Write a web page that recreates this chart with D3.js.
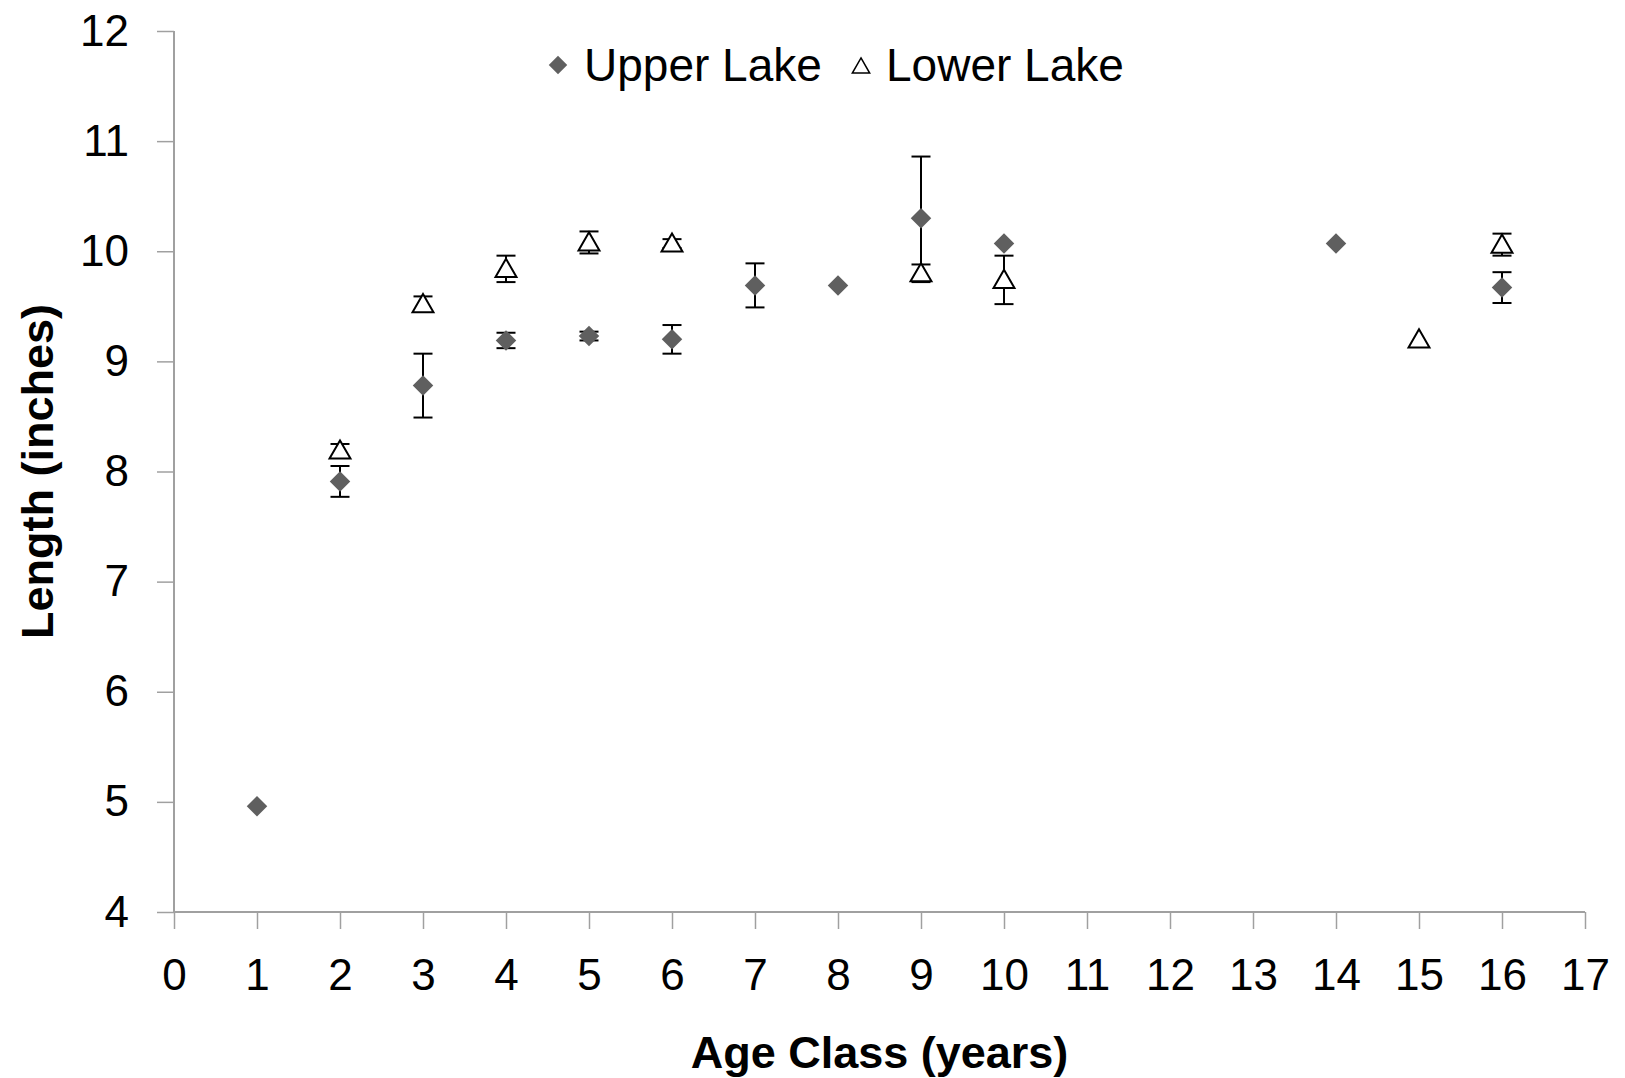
<!DOCTYPE html>
<html>
<head>
<meta charset="utf-8">
<script src="https://cdn.jsdelivr.net/npm/d3@7"></script>
<style>
  body { margin: 0; background: #fff; }
  svg { display: block; }
  text { font-family: "Liberation Sans", Arial, sans-serif; fill: #000; }
</style>
</head>
<body>
<div id="chart"></div>
<script>
// data
const upperAge = [1, 2, 3, 4, 5, 6, 7, 8, 9, 10, 14, 16];
const upperLen = [4.96, 7.91, 8.78, 9.19, 9.23, 9.20, 9.69, 9.69, 10.30, 10.07, 10.07, 9.67];
const upperErr = [0, 0.14, 0.29, 0.07, 0.04, 0.13, 0.20, 0, 0.56, 0, 0, 0.14];

const lowerAge = [2, 3, 4, 5, 6, 9, 10, 15, 16];
const lowerLen = [8.19, 9.52, 9.84, 10.08, 10.07, 9.80, 9.74, 9.20, 10.06];
const lowerErr = [0.06, 0.07, 0.12, 0.10, 0.04, 0.08, 0.22, 0, 0.10];

const xTicks = d3.range(0, 18);
const yTicks = d3.range(4, 13);
const seriesNames = ['Upper Lake', 'Lower Lake'];

const width = 1625, height = 1078;
const margin = {left: 174, right: 40, top: 31, bottom: 166};

const svg = d3.select('#chart').append('svg')
    .attr('width', width)
    .attr('height', height);

const x = d3.scaleLinear().domain([0, 17]).range([margin.left, width - margin.right]);
const y = d3.scaleLinear().domain([4, 12]).range([height - margin.bottom, margin.top]);

const axisColor = '#a0a0a0';
const markColor = '#5f5f5f';
const tickFont = '44px';
const titleFont = '45px';

// y axis
const yAxis = svg.append('g')
    .attr('transform', 'translate(' + margin.left + ',0)')
    .call(d3.axisLeft(y).tickValues(yTicks).tickSize(17).tickPadding(28).tickFormat(d3.format('d')));
// x axis
const xAxis = svg.append('g')
    .attr('transform', 'translate(0,' + (height - margin.bottom) + ')')
    .call(d3.axisBottom(x).tickValues(xTicks).tickSize(17).tickPadding(30).tickFormat(d3.format('d')));

[yAxis, xAxis].forEach(g => {
    g.select('.domain').attr('stroke', axisColor).attr('stroke-width', 2);
    g.selectAll('.tick line').attr('stroke', axisColor).attr('stroke-width', 1.5);
    g.selectAll('.tick text')
        .style('font-family', '"Liberation Sans", Arial, sans-serif')
        .style('font-size', tickFont)
        .attr('fill', '#000');
});
// plain axis lines, no outer tick ends
yAxis.select('.domain').attr('d', 'M0,' + y(12) + 'V' + y(4));
xAxis.select('.domain').attr('d', 'M' + x(0) + ',0H' + x(17));

// axis titles
svg.append('text')
    .attr('transform', 'translate(37,' + ((y(4) + y(12)) / 2) + ') rotate(-90)')
    .attr('text-anchor', 'middle')
    .attr('dominant-baseline', 'central')
    .style('font-size', titleFont)
    .style('font-weight', 'bold')
    .text('Length (inches)');

svg.append('text')
    .attr('x', (x(0) + x(17)) / 2)
    .attr('y', 1052)
    .attr('text-anchor', 'middle')
    .attr('dominant-baseline', 'central')
    .style('font-size', titleFont)
    .style('font-weight', 'bold')
    .text('Age Class (years)');

const upper = upperAge.map((a, i) => ({age: a, len: upperLen[i], err: upperErr[i]}));
const lower = lowerAge.map((a, i) => ({age: a, len: lowerLen[i], err: lowerErr[i]}));

const capW = 19;
const diamond = d3.symbol().type(d3.symbolSquare).size(210);
const triangle = d3.symbol().type(d3.symbolTriangle).size(190);

function drawErrors(data, cls) {
    const g = svg.append('g').attr('class', cls);
    const d2 = data.filter(d => d.err > 0);
    g.selectAll('line.v').data(d2).enter().append('line')
        .attr('x1', d => x(d.age)).attr('x2', d => x(d.age))
        .attr('y1', d => y(d.len + d.err)).attr('y2', d => y(d.len - d.err))
        .attr('stroke', '#000').attr('stroke-width', 2);
    ['+', '-'].forEach(s => {
        g.selectAll('line.c' + (s == '+' ? 'p' : 'm')).data(d2).enter().append('line')
            .attr('x1', d => x(d.age) - capW / 2).attr('x2', d => x(d.age) + capW / 2)
            .attr('y1', d => y(s == '+' ? d.len + d.err : d.len - d.err))
            .attr('y2', d => y(s == '+' ? d.len + d.err : d.len - d.err))
            .attr('stroke', '#000').attr('stroke-width', 2);
    });
}

// upper lake: error bars then diamonds
drawErrors(upper, 'upperErr');
svg.append('g').selectAll('path').data(upper).enter().append('path')
    .attr('d', diamond)
    .attr('transform', d => 'translate(' + x(d.age) + ',' + y(d.len) + ') rotate(45)')
    .attr('fill', markColor);

// lower lake: error bars then open triangles
drawErrors(lower, 'lowerErr');
svg.append('g').selectAll('path').data(lower).enter().append('path')
    .attr('d', triangle)
    .attr('transform', d => 'translate(' + x(d.age) + ',' + (y(d.len) + 2) + ')')
    .attr('fill', '#fff')
    .attr('stroke', '#000')
    .attr('stroke-width', 2);

// legend
const legendY = 65;
const legend = svg.append('g');
legend.append('path')
    .attr('d', d3.symbol().type(d3.symbolSquare).size(170))
    .attr('transform', 'translate(558,' + legendY + ') rotate(45)')
    .attr('fill', markColor);
legend.append('text').attr('x', 584).attr('y', legendY)
    .attr('dominant-baseline', 'central')
    .style('font-size', '46px')
    .text(seriesNames[0]);
legend.append('path')
    .attr('d', d3.symbol().type(d3.symbolTriangle).size(130))
    .attr('transform', 'translate(861,' + (legendY + 3) + ')')
    .attr('fill', '#fff').attr('stroke', '#000').attr('stroke-width', 1.5);
legend.append('text').attr('x', 886).attr('y', legendY)
    .attr('dominant-baseline', 'central')
    .style('font-size', '46px')
    .text(seriesNames[1]);
</script>
</body>
</html>
